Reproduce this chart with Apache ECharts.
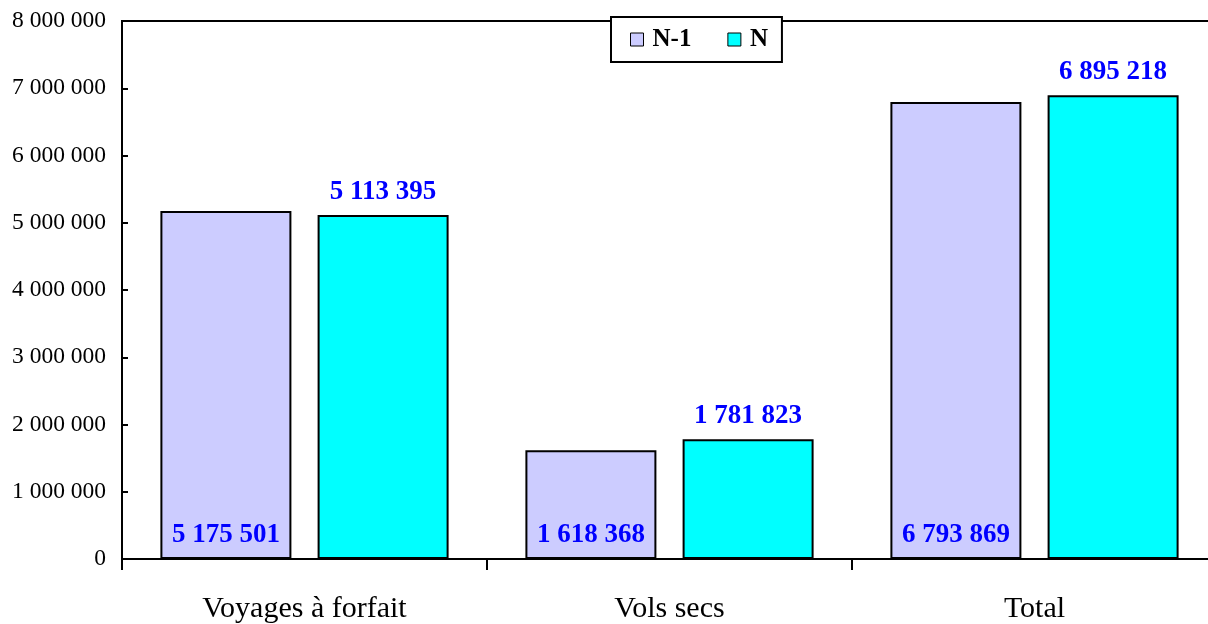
<!DOCTYPE html>
<html>
<head>
<meta charset="utf-8">
<script src="https://cdn.jsdelivr.net/npm/echarts@6/dist/echarts.min.js"></script>
<style>
  html, body { margin: 0; padding: 0; background: #fff; overflow: hidden; }
  /* the plot frame runs slightly past the right edge of the window */
  #chart { width: 1220px; height: 624px; }
</style>
</head>
<body>
<div id="chart"></div>
<script>
// Voyageurs par type de prestation, N-1 vs N
const categories = ['Voyages à forfait', 'Vols secs', 'Total'];
const seriesNames = ['N-1', 'N'];
const valuesPrev = [5175501, 1618368, 6793869];
const valuesCurr = [5113395, 1781823, 6895218];
const yTicks = { min: 0, max: 8000000, interval: 1000000 };

const FONT = "'Liberation Serif', 'Times New Roman', serif";
const fmt = v => String(Math.round(v)).replace(/\B(?=(\d{3})+(?!\d))/g, ' ');

const chart = echarts.init(document.getElementById('chart'), null, { renderer: 'canvas' });

const labelStyle = {
  show: true,
  color: '#0000ff',
  fontFamily: FONT,
  fontWeight: 'bold',
  fontSize: 27,
  formatter: p => fmt(p.value)
};

chart.setOption({
  animation: false,
  backgroundColor: '#ffffff',
  grid: {
    left: 122, top: 21, right: 3, bottom: 64,
    show: true, borderColor: '#000', borderWidth: 2, backgroundColor: 'transparent'
  },
  legend: {
    data: seriesNames,
    left: 611, top: 17,
    orient: 'horizontal',
    backgroundColor: '#ffffff',
    borderColor: '#000',
    borderWidth: 2,
    padding: [10, 14, 10, 19],
    itemWidth: 13, itemHeight: 13, itemGap: 36,
    icon: 'rect',
    itemStyle: { borderColor: '#000', borderWidth: 1 },
    textStyle: { fontFamily: FONT, fontWeight: 'bold', fontSize: 25, color: '#000', padding: [0, 0, 0, 4] }
  },
  xAxis: {
    type: 'category',
    data: categories,
    boundaryGap: true,
    axisLine: { show: true, lineStyle: { color: '#000', width: 2 } },
    axisTick: { show: true, inside: false, length: 11, lineStyle: { color: '#000', width: 2 } },
    axisLabel: { margin: 35, color: '#000', fontFamily: FONT, fontSize: 30 },
    splitLine: { show: false }
  },
  yAxis: {
    type: 'value',
    min: yTicks.min, max: yTicks.max, interval: yTicks.interval,
    axisLine: { show: true, lineStyle: { color: '#000', width: 2 } },
    axisTick: { show: true, inside: true, length: 6, lineStyle: { color: '#000', width: 2 } },
    axisLabel: { margin: 16, color: '#000', fontFamily: FONT, fontSize: 23.5, formatter: v => fmt(v) },
    splitLine: { show: false }
  },
  series: [
    {
      name: seriesNames[0],
      type: 'bar',
      data: valuesPrev,
      barWidth: 131,
      barGap: '20%',
      itemStyle: { color: '#ccccff', borderColor: '#000', borderWidth: 2 },
      label: Object.assign({}, labelStyle, { position: 'insideBottom', distance: 10 })
    },
    {
      name: seriesNames[1],
      type: 'bar',
      data: valuesCurr,
      barWidth: 131,
      barGap: '20%',
      itemStyle: { color: '#00ffff', borderColor: '#000', borderWidth: 2 },
      label: Object.assign({}, labelStyle, { position: 'top', distance: 10 })
    }
  ]
});
</script>
</body>
</html>
